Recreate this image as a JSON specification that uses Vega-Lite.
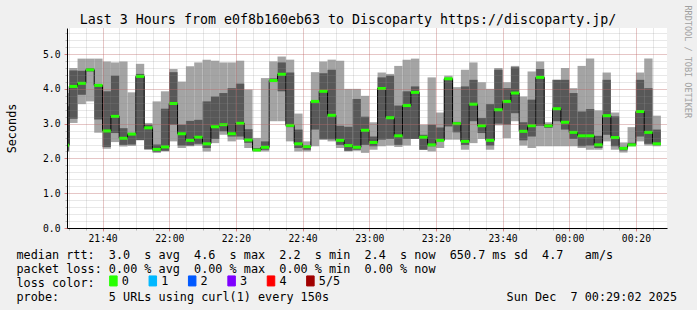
{
  "$schema": "https://vega.github.io/schema/vega-lite/v6.json",
  "width": 600,
  "height": 200,
  "autosize": "none",
  "padding": {"left": 67, "top": 28, "right": 30, "bottom": 82},
  "background": "#f0f0f0",
  "config": {"view": {"fill": "#ffffff", "stroke": null}, "font": "DejaVu Sans Mono"},
  "title": {
    "text": "Last 3 Hours from e0f8b160eb63 to Discoparty https://discoparty.jp/",
    "font": "DejaVu Sans Mono", "fontSize": 13.3, "fontWeight": "normal", "color": "#000000",
    "anchor": "middle", "frame": "group", "dx": -19, "dy": 37, "offset": 5, "baseline": "alphabetic"
  },
  "data": {"values": [
    {"s":1287.5,"e":1290,"mn":2.19,"p2":2.22,"md":2.38,"p4":3.50,"mx":3.88,"loss":"0"},
    {"s":1290,"e":1292.5,"mn":3.02,"p2":3.14,"md":4.07,"p4":4.53,"mx":4.60,"loss":"0"},
    {"s":1292.5,"e":1295,"mn":3.56,"p2":3.83,"md":4.16,"p4":4.52,"mx":4.87,"loss":"0"},
    {"s":1295,"e":1297.5,"mn":3.64,"p2":4.50,"md":4.55,"p4":4.60,"mx":4.87,"loss":"0"},
    {"s":1297.5,"e":1300,"mn":2.74,"p2":3.12,"md":4.10,"p4":4.12,"mx":4.87,"loss":"0"},
    {"s":1300,"e":1302.5,"mn":2.28,"p2":2.33,"md":2.79,"p4":3.93,"mx":4.79,"loss":"0"},
    {"s":1302.5,"e":1305,"mn":2.47,"p2":2.73,"md":3.21,"p4":4.38,"mx":4.76,"loss":"0"},
    {"s":1305,"e":1307.5,"mn":2.34,"p2":2.39,"md":2.58,"p4":2.87,"mx":4.79,"loss":"0"},
    {"s":1307.5,"e":1310,"mn":2.36,"p2":2.40,"md":2.70,"p4":2.73,"mx":3.90,"loss":"0"},
    {"s":1310,"e":1312.5,"mn":2.52,"p2":2.53,"md":4.36,"p4":4.43,"mx":4.72,"loss":"0"},
    {"s":1312.5,"e":1315,"mn":2.26,"p2":2.26,"md":2.88,"p4":2.97,"mx":3.02,"loss":"0"},
    {"s":1315,"e":1317.5,"mn":2.16,"p2":2.19,"md":2.26,"p4":2.40,"mx":3.64,"loss":"0"},
    {"s":1317.5,"e":1320,"mn":2.20,"p2":2.22,"md":2.33,"p4":3.43,"mx":3.93,"loss":"0"},
    {"s":1320,"e":1322.5,"mn":2.49,"p2":2.97,"md":3.58,"p4":4.48,"mx":4.57,"loss":"0"},
    {"s":1322.5,"e":1325,"mn":2.30,"p2":2.37,"md":2.71,"p4":2.97,"mx":4.21,"loss":"0"},
    {"s":1325,"e":1327.5,"mn":2.35,"p2":2.37,"md":2.52,"p4":3.08,"mx":4.65,"loss":"0"},
    {"s":1327.5,"e":1330,"mn":2.37,"p2":2.42,"md":2.61,"p4":3.11,"mx":4.76,"loss":"0"},
    {"s":1330,"e":1332.5,"mn":2.20,"p2":2.30,"md":2.42,"p4":3.64,"mx":4.84,"loss":"0"},
    {"s":1332.5,"e":1335,"mn":2.44,"p2":2.56,"md":2.91,"p4":3.78,"mx":4.81,"loss":"0"},
    {"s":1335,"e":1337.5,"mn":2.68,"p2":2.78,"md":2.97,"p4":3.88,"mx":4.76,"loss":"0"},
    {"s":1337.5,"e":1340,"mn":2.49,"p2":2.63,"md":2.71,"p4":4.02,"mx":4.76,"loss":"0"},
    {"s":1340,"e":1342.5,"mn":2.54,"p2":2.63,"md":3.01,"p4":4.15,"mx":4.81,"loss":"0"},
    {"s":1342.5,"e":1345,"mn":2.30,"p2":2.45,"md":2.53,"p4":2.84,"mx":3.98,"loss":"0"},
    {"s":1345,"e":1347.5,"mn":2.20,"p2":2.22,"md":2.24,"p4":2.30,"mx":2.59,"loss":"0"},
    {"s":1347.5,"e":1350,"mn":2.20,"p2":2.25,"md":2.32,"p4":2.49,"mx":4.31,"loss":"0"},
    {"s":1350,"e":1352.5,"mn":3.07,"p2":4.20,"md":4.24,"p4":4.30,"mx":4.79,"loss":"0"},
    {"s":1352.5,"e":1355,"mn":3.07,"p2":3.93,"md":4.42,"p4":4.76,"mx":4.93,"loss":"0"},
    {"s":1355,"e":1357.5,"mn":2.49,"p2":2.90,"md":2.95,"p4":4.47,"mx":4.84,"loss":"0"},
    {"s":1357.5,"e":1360,"mn":2.20,"p2":2.30,"md":2.42,"p4":2.83,"mx":3.29,"loss":"0"},
    {"s":1360,"e":1362.5,"mn":2.20,"p2":2.25,"md":2.34,"p4":2.37,"mx":2.49,"loss":"0"},
    {"s":1362.5,"e":1365,"mn":2.35,"p2":2.83,"md":3.64,"p4":3.66,"mx":4.48,"loss":"0"},
    {"s":1365,"e":1367.5,"mn":2.54,"p2":2.55,"md":3.93,"p4":4.45,"mx":4.79,"loss":"0"},
    {"s":1367.5,"e":1370,"mn":2.49,"p2":2.55,"md":3.24,"p4":4.55,"mx":4.84,"loss":"0"},
    {"s":1370,"e":1372.5,"mn":2.30,"p2":2.39,"md":2.52,"p4":2.94,"mx":4.81,"loss":"0"},
    {"s":1372.5,"e":1375,"mn":2.20,"p2":2.22,"md":2.37,"p4":2.91,"mx":4.00,"loss":"0"},
    {"s":1375,"e":1377.5,"mn":2.22,"p2":2.25,"md":2.32,"p4":3.71,"mx":4.00,"loss":"0"},
    {"s":1377.5,"e":1380,"mn":2.16,"p2":2.39,"md":2.81,"p4":3.20,"mx":3.80,"loss":"0"},
    {"s":1380,"e":1382.5,"mn":2.25,"p2":2.35,"md":2.46,"p4":2.63,"mx":3.04,"loss":"0"},
    {"s":1382.5,"e":1385,"mn":2.35,"p2":2.54,"md":4.01,"p4":4.33,"mx":4.47,"loss":"0"},
    {"s":1385,"e":1387.5,"mn":2.37,"p2":2.56,"md":3.17,"p4":4.38,"mx":4.43,"loss":"0"},
    {"s":1387.5,"e":1390,"mn":2.33,"p2":2.39,"md":2.65,"p4":3.52,"mx":4.66,"loss":"0"},
    {"s":1390,"e":1392.5,"mn":2.37,"p2":2.56,"md":3.52,"p4":3.93,"mx":4.84,"loss":"0"},
    {"s":1392.5,"e":1395,"mn":2.56,"p2":2.56,"md":3.90,"p4":4.07,"mx":4.87,"loss":"0"},
    {"s":1395,"e":1397.5,"mn":2.25,"p2":2.25,"md":2.61,"p4":2.68,"mx":2.97,"loss":"0"},
    {"s":1397.5,"e":1400,"mn":2.20,"p2":2.35,"md":2.39,"p4":2.97,"mx":4.33,"loss":"0"},
    {"s":1400,"e":1402.5,"mn":2.30,"p2":2.50,"md":2.52,"p4":2.89,"mx":3.32,"loss":"0"},
    {"s":1402.5,"e":1405,"mn":2.54,"p2":2.92,"md":4.29,"p4":4.30,"mx":4.38,"loss":"0"},
    {"s":1405,"e":1407.5,"mn":2.54,"p2":2.75,"md":3.00,"p4":3.05,"mx":4.05,"loss":"0"},
    {"s":1407.5,"e":1410,"mn":2.25,"p2":2.39,"md":2.49,"p4":4.07,"mx":4.55,"loss":"0"},
    {"s":1410,"e":1412.5,"mn":2.44,"p2":3.07,"md":3.56,"p4":4.26,"mx":4.76,"loss":"0"},
    {"s":1412.5,"e":1415,"mn":2.56,"p2":2.73,"md":2.94,"p4":3.16,"mx":4.19,"loss":"0"},
    {"s":1415,"e":1417.5,"mn":2.25,"p2":2.37,"md":2.52,"p4":3.56,"mx":4.00,"loss":"0"},
    {"s":1417.5,"e":1420,"mn":2.95,"p2":3.00,"md":3.40,"p4":4.55,"mx":4.60,"loss":"0"},
    {"s":1420,"e":1422.5,"mn":2.58,"p2":2.97,"md":3.64,"p4":4.02,"mx":4.19,"loss":"0"},
    {"s":1422.5,"e":1425,"mn":3.07,"p2":3.30,"md":3.88,"p4":4.62,"mx":4.66,"loss":"0"},
    {"s":1425,"e":1427.5,"mn":2.37,"p2":2.52,"md":2.78,"p4":3.04,"mx":3.78,"loss":"0"},
    {"s":1427.5,"e":1430,"mn":2.30,"p2":2.63,"md":2.94,"p4":3.69,"mx":4.50,"loss":"0"},
    {"s":1430,"e":1432.5,"mn":2.35,"p2":2.94,"md":4.33,"p4":4.57,"mx":4.79,"loss":"0"},
    {"s":1432.5,"e":1435,"mn":2.35,"p2":2.88,"md":2.94,"p4":2.99,"mx":3.04,"loss":"0"},
    {"s":1435,"e":1437.5,"mn":2.35,"p2":3.07,"md":3.43,"p4":4.26,"mx":4.26,"loss":"0"},
    {"s":1437.5,"e":1440,"mn":2.35,"p2":2.83,"md":3.04,"p4":4.26,"mx":4.60,"loss":"0"},
    {"s":1440,"e":1442.5,"mn":2.35,"p2":2.56,"md":2.75,"p4":3.88,"mx":4.02,"loss":"0"},
    {"s":1442.5,"e":1445,"mn":2.30,"p2":2.35,"md":2.65,"p4":3.35,"mx":4.66,"loss":"0"},
    {"s":1445,"e":1447.5,"mn":2.25,"p2":2.37,"md":2.65,"p4":3.42,"mx":4.87,"loss":"0"},
    {"s":1447.5,"e":1450,"mn":2.25,"p2":2.30,"md":2.39,"p4":2.65,"mx":3.38,"loss":"0"},
    {"s":1450,"e":1452.5,"mn":2.49,"p2":2.68,"md":3.23,"p4":4.26,"mx":4.47,"loss":"0"},
    {"s":1452.5,"e":1455,"mn":2.25,"p2":2.35,"md":2.60,"p4":3.21,"mx":3.32,"loss":"0"},
    {"s":1455,"e":1457.5,"mn":2.17,"p2":2.23,"md":2.29,"p4":2.33,"mx":2.46,"loss":"0"},
    {"s":1457.5,"e":1460,"mn":2.35,"p2":2.37,"md":2.39,"p4":2.45,"mx":2.90,"loss":"0"},
    {"s":1460,"e":1462.5,"mn":2.49,"p2":2.63,"md":3.35,"p4":4.26,"mx":4.47,"loss":"0"},
    {"s":1462.5,"e":1465,"mn":2.37,"p2":2.42,"md":2.75,"p4":4.02,"mx":4.87,"loss":"0"},
    {"s":1465,"e":1467.5,"mn":2.35,"p2":2.39,"md":2.42,"p4":2.83,"mx":3.23,"loss":"0"}
  ]},
  "layer": [
    {
      "mark": {"type": "rect", "color": "#a4a4a4", "clip": true},
      "encoding": {
        "x": {"field": "s", "type": "quantitative",
          "scale": {"domain": [1289.333, 1469.333], "nice": false, "zero": false},
          "axis": {
            "orient": "bottom", "zindex": 2,
            "values": [1300, 1320, 1340, 1360, 1380, 1400, 1420, 1440, 1460],
            "labelExpr": "format(floor(datum.value / 60) % 24, '02d') + ':' + format(datum.value % 60, '02d')",
            "labelFont": "DejaVu Sans Mono", "labelFontSize": 9.7, "labelColor": "#000000",
            "labelPadding": 2, "labelFlush": false, "labelOverlap": false,
            "tickSize": 3, "tickColor": "#de5151", "tickOpacity": 0.6,
            "domainColor": "#000000", "domainWidth": 1,
            "grid": true, "gridColor": "#de5151", "gridOpacity": 0.45, "gridDash": [1, 1],
            "title": [
              "median rtt:\u00a0\u00a03.0\u00a0\u00a0s avg\u00a0\u00a04.6\u00a0\u00a0s max\u00a0\u00a02.2\u00a0\u00a0s min\u00a0\u00a02.4\u00a0\u00a0s now\u00a0\u00a0650.7 ms sd\u00a0\u00a04.7\u00a0\u00a0\u00a0am/s",
              "packet loss: 0.00 % avg\u00a0\u00a00.00 % max\u00a0\u00a00.00 % min\u00a0\u00a00.00 % now",
              "loss color:",
              "probe:\u00a0\u00a0\u00a0\u00a0\u00a0\u00a0\u00a05 URLs using curl(1) every 150s\u00a0\u00a0\u00a0\u00a0\u00a0\u00a0\u00a0\u00a0\u00a0\u00a0\u00a0\u00a0\u00a0\u00a0\u00a0\u00a0\u00a0\u00a0\u00a0\u00a0\u00a0\u00a0\u00a0\u00a0\u00a0Sun Dec\u00a0\u00a07 00:29:02 2025"
            ],
            "titleFont": "DejaVu Sans Mono", "titleFontSize": 11.8, "titleFontWeight": "normal",
            "titleColor": "#000000", "titleAnchor": "start", "titleAlign": "left",
            "titleBaseline": "alphabetic", "titleX": -51, "titleY": 30, "titleLineHeight": 14
          }
        },
        "x2": {"field": "e"},
        "y": {"field": "mn", "type": "quantitative",
          "scale": {"domain": [0, 5.75], "nice": false, "zero": true},
          "axis": {
            "orient": "left", "zindex": 2,
            "values": [0, 1, 2, 3, 4, 5], "format": ".1f",
            "labelFont": "DejaVu Sans Mono", "labelFontSize": 9.7, "labelColor": "#000000", "labelPadding": 4,
            "tickSize": 3, "tickColor": "#de5151", "tickOpacity": 0.6,
            "domainColor": "#000000", "domainWidth": 1,
            "grid": true, "gridColor": "#de5151", "gridOpacity": 0.45, "gridDash": [1, 1],
            "title": "Seconds", "titleFont": "DejaVu Sans Mono", "titleFontSize": 11.8, "titleFontWeight": "normal",
            "titleColor": "#000000", "titleX": -56, "titleY": 100, "titleAngle": 270, "titleAlign": "center", "titleBaseline": "middle"
          }
        },
        "y2": {"field": "mx"}
      }
    },
    {
      "mark": {"type": "rect", "color": "#585858", "clip": true},
      "encoding": {
        "x": {"field": "s", "type": "quantitative",
          "axis": {
            "orient": "bottom", "zindex": 1,
            "values": [1290, 1295, 1300, 1305, 1310, 1315, 1320, 1325, 1330, 1335, 1340, 1345, 1350, 1355, 1360, 1365, 1370, 1375, 1380, 1385, 1390, 1395, 1400, 1405, 1410, 1415, 1420, 1425, 1430, 1435, 1440, 1445, 1450, 1455, 1460, 1465],
            "labels": false, "domain": false,
            "tickSize": 2, "tickColor": "#8f8f8f", "tickOpacity": 0.6,
            "grid": true, "gridColor": "#8f8f8f", "gridOpacity": 0.4, "gridDash": [1, 1], "title": null
          }
        },
        "x2": {"field": "e"},
        "y": {"field": "p2", "type": "quantitative",
          "axis": {
            "orient": "left", "zindex": 1,
            "values": [0, 0.2, 0.4, 0.6, 0.8, 1, 1.2, 1.4, 1.6, 1.8, 2, 2.2, 2.4, 2.6, 2.8, 3, 3.2, 3.4, 3.6, 3.8, 4, 4.2, 4.4, 4.6, 4.8, 5, 5.2, 5.4, 5.6],
            "labels": false, "domain": false,
            "tickSize": 2, "tickColor": "#8f8f8f", "tickOpacity": 0.6,
            "grid": true, "gridColor": "#8f8f8f", "gridOpacity": 0.4, "gridDash": [1, 1], "title": null
          }
        },
        "y2": {"field": "p4"}
      }
    },
    {
      "mark": {"type": "line", "interpolate": "step-after", "color": "#000000", "strokeWidth": 1, "clip": true},
      "encoding": {
        "x": {"field": "s", "type": "quantitative", "axis": null},
        "y": {"field": "md", "type": "quantitative",
          "axis": {
            "orient": "right", "labels": false, "ticks": false, "domain": false, "grid": false,
            "title": "RRDTOOL / TOBI OETIKER", "titleFont": "DejaVu Sans Mono", "titleFontSize": 8.5,
            "titleFontWeight": "normal", "titleColor": "#a0a0a0", "titleAngle": 90,
            "titleX": 20, "titleY": -23, "titleAlign": "left", "titleBaseline": "middle"
          }
        }
      }
    },
    {
      "mark": {"type": "rule", "strokeWidth": 3, "strokeCap": "butt", "clip": true},
      "encoding": {
        "x": {"field": "s", "type": "quantitative", "axis": null},
        "x2": {"field": "e"},
        "y": {"field": "md", "type": "quantitative", "axis": null},
        "color": {"field": "loss", "type": "nominal",
          "scale": {"domain": ["0", "1", "2", "3", "4", "5/5"], "range": ["#26ff00", "#00b8ff", "#0059ff", "#7e00ff", "#ff0000", "#a00000"]},
          "legend": {
            "orient": "none", "legendX": 40.5, "legendY": 247, "direction": "horizontal", "columns": 6,
            "title": null, "symbolType": "M-0.75,-1H0.75V1H-0.75Z", "symbolSize": 100,
            "symbolStrokeColor": "#000000", "symbolStrokeWidth": 1,
            "labelFont": "DejaVu Sans Mono", "labelFontSize": 11.8, "labelColor": "#000000",
            "labelOffset": 2.5, "columnPadding": 3.4, "gridAlign": "all", "padding": 0,
            "encode": {"symbols": {"update": {
              "fill": {"scale": "color", "field": "value"}, "fillOpacity": {"value": 1},
              "stroke": {"value": "#000000"}, "strokeWidth": {"value": 1}}}}
          }
        }
      }
    }
  ],
  "resolve": {"axis": {"x": "independent", "y": "independent"}}
}
